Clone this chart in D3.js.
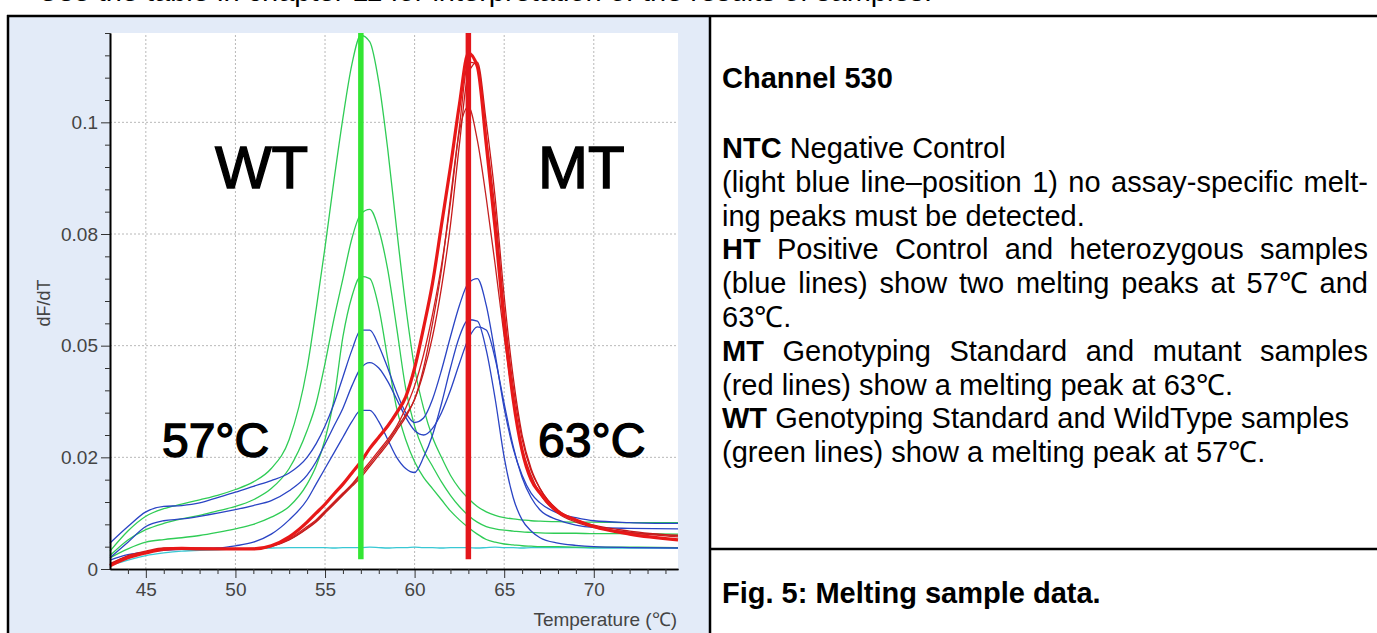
<!DOCTYPE html>
<html>
<head>
<title>Melting sample data</title>
<meta charset="utf-8" />
<style>
body { margin: 0; background: #fff; }
svg { display: block; font-family: "Liberation Sans", Arial, sans-serif; }
</style>
</head>
<body>
<div id="chart"></div>
<script src="https://d3js.org/d3.v7.min.js" charset="utf-8"></script>
<script type="text/javascript">
// temperature grid (deg C) shared by every curve
var temps = [43,44,45,46,47,48,49,50,51,52,53,54,54.5,55,55.5,56,56.5,57,57.5,58,58.5,59,59.5,60,60.5,61,61.5,62,62.5,63,63.5,64,64.5,65,65.5,66,66.5,67,68,69,70,72,74.7];

// WT samples (green)
var wt1 = [.004,.0085,.0118,.0135,.0145,.0155,.0165,.0178,.0195,.0225,.029,.045,.058,.072,.087,.101,.113,.1195,.118,.109,.094,.076,.059,.045,.036,.0295,.025,.021,.018,.0158,.014,.0128,.012,.0115,.0112,.011,.0108,.0107,.0106,.0105,.0105,.0104,.0104];
var wt2 = [.003,.0065,.0088,.0102,.0112,.012,.013,.014,.0155,.018,.0225,.031,.037,.046,.056,.065,.074,.0795,.0805,.076,.067,.054,.0405,.032,.0266,.023,.0195,.0165,.014,.012,.0105,.0095,.009,.0087,.0085,.0083,.0082,.0081,.008,.008,.0079,.0079,.0078];
var wt3 = [.0025,.0045,.006,.0066,.007,.0075,.0082,.009,.01,.0116,.014,.019,.023,.029,.038,.052,.061,.0655,.065,.0585,.047,.036,.029,.024,.0205,.018,.0155,.013,.011,.0093,.0078,.0066,.006,.0056,.0054,.0052,.0051,.005,.005,.0049,.0049,.0049,.0048];

// HT samples (blue)
var ht1 = [.0058,.0095,.0128,.014,.0142,.0148,.016,.0172,.0185,.0198,.0215,.025,.028,.032,.037,.043,.049,.0535,.0535,.05,.045,.0395,.035,.0328,.0338,.038,.0445,.052,.059,.064,.065,.059,.048,.036,.027,.021,.017,.0148,.0125,.0115,.0108,.0104,.0102];
var ht2 = [.0025,.006,.0095,.0108,.0112,.0118,.0125,.0133,.0142,.0153,.0175,.021,.024,.028,.032,.036,.041,.045,.0462,.045,.042,.038,.034,.031,.03,.0315,.035,.04,.046,.0515,.0542,.0535,.047,.037,.0275,.0205,.016,.0132,.011,.0098,.0093,.0091,.009];
var ht3 = [.002,.0032,.0038,.0042,.0044,.0046,.0047,.0052,.006,.0078,.011,.0155,.019,.0225,.026,.0295,.033,.0355,.0355,.033,.029,.025,.0225,.0216,.025,.03,.037,.045,.052,.0558,.0555,.049,.038,.025,.016,.011,.0085,.007,.0058,.0053,.005,.0048,.0047];

// MT samples (red), mt0 is the thick standard
var mt0 = [.0007,.0025,.0036,.0044,.0046,.0045,.0045,.0045,.0045,.0052,.0072,.0105,.0125,.0145,.0168,.019,.0215,.024,.027,.0295,.032,.035,.0385,.045,.054,.064,.077,.09,.104,.1155,.1125,.095,.076,.055,.038,.0265,.02,.017,.0128,.011,.0095,.0078,.0065];
var mt1 = [.001,.003,.004,.0047,.0047,.0046,.0045,.0045,.0046,.0052,.0068,.0095,.011,.013,.015,.017,.019,.0215,.024,.0265,.029,.032,.036,.041,.048,.057,.068,.082,.099,.1135,.113,.097,.08,.058,.041,.029,.022,.018,.013,.0108,.0095,.0082,.0072];
var mt2 = [.0012,.0028,.0038,.0045,.0046,.0045,.0044,.0044,.0045,.005,.0065,.009,.0105,.0125,.0145,.0165,.0185,.0205,.023,.0255,.028,.031,.034,.038,.044,.052,.063,.077,.095,.111,.1135,.1,.083,.061,.043,.03,.0225,.018,.0132,.011,.0098,.0085,.0075];
var mt3 = [.0009,.0026,.0037,.0046,.0048,.0047,.0046,.0045,.0045,.0051,.0066,.0092,.0108,.0128,.0148,.0168,.0188,.021,.0235,.026,.0285,.0315,.0345,.038,.045,.055,.067,.083,.098,.1035,.096,.083,.068,.052,.038,.027,.021,.0168,.0125,.0105,.0093,.0082,.0075];

// NTC (light blue)
var ntc = [.0008,.002,.003,.0036,.004,.0042,.0043,.0045,.0046,.0047,.0048,.0048,.0048,.0048,.0047,.0048,.0048,.0048,.0049,.0048,.0047,.0048,.0048,.0049,.0048,.0048,.0047,.0048,.0048,.0048,.0047,.0048,.0049,.0048,.0048,.0047,.0048,.0048,.0048,.0048,.0047,.0047,.0047];

var peakTemps = [57, 63];
var xTicks = [45, 50, 55, 60, 65, 70];
var yTicks = [0, 0.025, 0.05, 0.075, 0.1];
var yTickLabels = ["0", "0.02", "0.05", "0.08", "0.1"];

var width = 1377, height = 633;
var svg = d3.select("#chart").append("svg").attr("width", width).attr("height", height);

// line of text cut off at the top of the page
svg.append("text").attr("x", 38).attr("y", 0.5).attr("font-size", 29)
  .text("Use the table in chapter 11 for interpretation of the results of samples.");

// left panel and frame
svg.append("rect").attr("x", 9).attr("y", 16).attr("width", 700).attr("height", 617).attr("fill", "#e3ebf8");
svg.append("line").attr("x1", 7).attr("x2", width).attr("y1", 16).attr("y2", 16).attr("stroke", "#000").attr("stroke-width", 2.5);
svg.append("line").attr("x1", 8).attr("x2", 8).attr("y1", 15).attr("y2", height).attr("stroke", "#000").attr("stroke-width", 2.5);
svg.append("line").attr("x1", 710).attr("x2", 710).attr("y1", 15).attr("y2", height).attr("stroke", "#000").attr("stroke-width", 2.5);
svg.append("line").attr("x1", 710).attr("x2", width).attr("y1", 549).attr("y2", 549).attr("stroke", "#000").attr("stroke-width", 2.5);

var x = d3.scaleLinear().domain([43, 74.7]).range([110, 678]);
var y = d3.scaleLinear().domain([0, 0.12]).range([569, 33]);

var plot = svg.append("g");
plot.append("rect").attr("x", x(43)).attr("y", y(0.12))
  .attr("width", x(74.7) - x(43)).attr("height", y(0) - y(0.12)).attr("fill", "#fff");

// dotted grid
plot.selectAll(".gx").data(xTicks).enter().append("line")
  .attr("x1", d => x(d)).attr("x2", d => x(d)).attr("y1", y(0)).attr("y2", y(0.12))
  .attr("stroke", "#b8b8b8").attr("stroke-dasharray", "2,2");
plot.selectAll(".gy").data(yTicks.slice(1)).enter().append("line")
  .attr("x1", x(43)).attr("x2", x(74.7)).attr("y1", d => y(d)).attr("y2", d => y(d))
  .attr("stroke", "#b8b8b8").attr("stroke-dasharray", "2,2");

var line = d3.line().x((d, i) => x(temps[i])).y(d => y(d)).curve(d3.curveMonotoneX);

var curves = [
  {v: ntc, c: "#38c8d4", w: 1.3},
  {v: wt1, c: "#2fcc55", w: 1.3},
  {v: wt2, c: "#2fcc55", w: 1.3},
  {v: wt3, c: "#2fcc55", w: 1.3},
  {v: ht1, c: "#2a44c4", w: 1.3},
  {v: ht2, c: "#2a44c4", w: 1.3},
  {v: ht3, c: "#2a44c4", w: 1.3},
  {v: mt1, c: "#d41c1c", w: 1.3},
  {v: mt2, c: "#c81818", w: 1.3},
  {v: mt3, c: "#c42020", w: 1.3},
  {v: mt0, c: "#e81818", w: 3.2}
];
plot.selectAll(".curve").data(curves).enter().append("path")
  .attr("d", d => line(d.v)).attr("fill", "none")
  .attr("stroke", d => d.c).attr("stroke-width", d => d.w);

// melting peak markers
var peakColors = ["#33e633", "#e3161b"];
plot.selectAll(".peak").data(peakTemps).enter().append("line")
  .attr("x1", d => x(d)).attr("x2", d => x(d)).attr("y1", y(0.12)).attr("y2", y(0.0022))
  .attr("stroke", (d, i) => peakColors[i]).attr("stroke-width", 5.5);

// axes
var yAxis = svg.append("g").attr("transform", "translate(" + x(43) + ",0)")
  .call(d3.axisLeft(y).tickValues(yTicks).tickFormat((d, i) => yTickLabels[i]).tickSize(9).tickSizeOuter(0));
var yMinor = d3.range(0.005, 0.1201, 0.005).filter(v => Math.abs(v / 0.025 - Math.round(v / 0.025)) > 0.01);
svg.append("g").attr("transform", "translate(" + x(43) + ",0)")
  .call(d3.axisLeft(y).tickValues(yMinor).tickFormat("").tickSize(5).tickSizeOuter(0));
var xAxis = svg.append("g").attr("transform", "translate(0," + y(0) + ")")
  .call(d3.axisBottom(x).tickValues(xTicks).tickSize(9).tickSizeOuter(0));
var xMinor = d3.range(44, 75).filter(v => v % 5 != 0);
svg.append("g").attr("transform", "translate(0," + y(0) + ")")
  .call(d3.axisBottom(x).tickValues(xMinor).tickFormat("").tickSize(5).tickSizeOuter(0));

svg.selectAll(".domain").attr("stroke", "#000").attr("stroke-width", 1.6);
svg.selectAll(".tick line").attr("stroke", "#333");
yAxis.selectAll("text").attr("font-size", 19).attr("fill", "#444").attr("font-family", "Liberation Sans, Arial, sans-serif").attr("x", -12);
xAxis.selectAll("text").attr("font-size", 19).attr("fill", "#444").attr("font-family", "Liberation Sans, Arial, sans-serif").attr("y", 14);

svg.append("text").attr("transform", "translate(50,303) rotate(-90)").attr("text-anchor", "middle")
  .attr("font-size", 18).attr("fill", "#444").text("dF/dT");
svg.append("text").attr("x", 677).attr("y", 626).attr("text-anchor", "end")
  .attr("font-size", 19).attr("fill", "#444").text("Temperature (\u2103)");

// big annotations, placed in data units
var bigLabels = [
  {t: "WT", tx: 48.86, ty: 0.0852, s: 60},
  {t: "MT", tx: 66.89, ty: 0.0852, s: 60},
  {t: "57\u00b0C", tx: 45.9, ty: 0.0251, s: 48},
  {t: "63\u00b0C", tx: 66.89, ty: 0.0251, s: 48}
];
svg.selectAll(".big").data(bigLabels).enter().append("text")
  .attr("x", d => x(d.tx)).attr("y", d => y(d.ty)).attr("font-size", d => d.s)
  .attr("fill", "#000").attr("stroke", "#000").attr("stroke-width", 1.4)
  .text(d => d.t);

// description text on the right
var textLeft = 722, textRight = 1368, fs = 29;
var notes = [
  {y: 88, words: [["Channel 530", true]]},
  {y: 158, words: [["NTC", true], [" Negative Control", false]]},
  {y: 192, justify: true, words: [["(light blue line\u2013position 1) no assay-specific melt-", false]]},
  {y: 226, words: [["ing peaks must be detected.", false]]},
  {y: 259, justify: true, words: [["HT", true], ["Positive Control and heterozygous samples", false]]},
  {y: 293, justify: true, words: [["(blue lines) show two melting peaks at 57\u2103 and", false]]},
  {y: 327, words: [["63\u2103.", false]]},
  {y: 361, justify: true, words: [["MT", true], ["Genotyping Standard and mutant samples", false]]},
  {y: 395, words: [["(red lines) show a melting peak at 63\u2103.", false]]},
  {y: 428, words: [["WT", true], [" Genotyping Standard and WildType samples", false]]},
  {y: 462, words: [["(green lines) show a melting peak at 57\u2103.", false]]},
  {y: 603, words: [["Fig. 5: Melting sample data.", true]]}
];

notes.forEach(function(n) {
  if (!n.justify) {
    var t = svg.append("text").attr("x", textLeft).attr("y", n.y).attr("font-size", fs).attr("xml:space", "preserve");
    n.words.forEach(function(w) {
      t.append("tspan").attr("font-weight", w[1] ? "bold" : "normal").text(w[0]);
    });
    return;
  }
  // split into words and spread them across the column
  var items = [];
  n.words.forEach(function(w) {
    w[0].split(" ").forEach(function(s) { if (s) items.push({s: s, b: w[1]}); });
  });
  var total = 0;
  items.forEach(function(it) {
    it.el = svg.append("text").attr("y", n.y).attr("font-size", fs)
      .attr("font-weight", it.b ? "bold" : "normal").text(it.s);
    it.w = it.el.node().getComputedTextLength();
    total += it.w;
  });
  var gap = (textRight - textLeft - total) / (items.length - 1);
  var cx = textLeft;
  items.forEach(function(it) {
    it.el.attr("x", cx);
    cx += it.w + gap;
  });
});
</script>
</body>
</html>
